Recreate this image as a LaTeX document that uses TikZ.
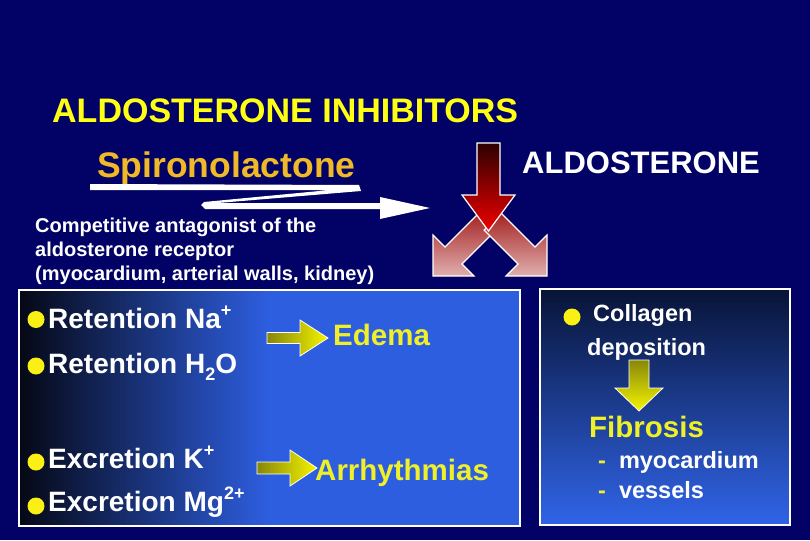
\documentclass[tikz,border=0pt]{standalone}
\usepackage{fontspec}
\setmainfont{Liberation Sans}
\definecolor{bgnavy}{RGB}{2,2,102}
\definecolor{titleyellow}{RGB}{255,255,20}
\definecolor{spiro}{RGB}{240,185,40}
\definecolor{txtyellow}{RGB}{240,240,40}
\definecolor{bulletyellow}{RGB}{250,240,20}
\definecolor{olivey}{RGB}{135,135,10}
\definecolor{brighty}{RGB}{245,245,0}
\definecolor{darkred}{RGB}{45,0,0}
\definecolor{brightred}{RGB}{240,0,0}
\definecolor{pinktop}{RGB}{165,35,35}
\definecolor{pinkbot}{RGB}{225,175,175}
\definecolor{rboxtop}{RGB}{8,20,55}
\definecolor{rboxbot}{RGB}{48,100,232}
\pgfdeclarehorizontalshading{lboxshade}{100bp}{rgb(0bp)=(0,0,0); rgb(25bp)=(0.02,0.03,0.08); rgb(50bp)=(0.18,0.37,0.88); rgb(100bp)=(0.18,0.37,0.88)}
\newcommand\mysup[1]{\raisebox{0.42em}{\fontsize{18}{18}\selectfont #1}}
\newcommand\mysub[1]{\raisebox{-0.28em}{\fontsize{18}{18}\selectfont #1}}
\begin{document}
\begin{tikzpicture}[x=1pt,y=-1pt,
  txt/.style={anchor=base west, inner sep=0pt, text=white},
  titletxt/.style={txt, text=titleyellow, font=\bfseries\fontsize{34}{40}\selectfont},
  spirotxt/.style={txt, text=spiro, font=\bfseries\fontsize{35.5}{40}\selectfont},
  aldotxt/.style={txt, font=\bfseries\fontsize{31}{36}\selectfont},
  smalltxt/.style={txt, font=\bfseries\fontsize{20}{24}\selectfont},
  bodytxt/.style={txt, font=\bfseries\fontsize{28}{32}\selectfont},
  yeltxt/.style={txt, text=txtyellow, font=\bfseries\fontsize{29.5}{34}\selectfont},
  rtxt/.style={txt, font=\bfseries\fontsize{23.5}{28}\selectfont},
  bullet/.style={circle, fill=bulletyellow, inner sep=0pt, minimum size=17pt},
  fatarrow/.style={draw=white, line width=1.2pt, line join=miter},
  panel/.style={draw=white, line width=2pt, inner sep=0pt}
]
\useasboundingbox (0,0) rectangle (810,540);
\fill[bgnavy] (0,0) rectangle (810,540);

% titles
\node[titletxt] (title) at (52,123) {ALDOSTERONE INHIBITORS};
\node[spirotxt] (spiro) at (97,178) {Spironolactone};
\node[aldotxt] (aldo) at (522,174) {ALDOSTERONE};

% white zigzag arrow
\fill[white] (90,184) -- (359,185) -- (361,191) -- (218,203) -- (380,203) -- (380,197)
  -- (430,208) -- (380,219) -- (380,209) -- (205,209) -- (201,205) -- (204,202)
  -- (330,190) -- (90,190) -- cycle;

\node[smalltxt] (comp1) at (35,232) {Competitive antagonist of the};
\node[smalltxt] (comp2) at (35,256) {aldosterone receptor};
\node[smalltxt] (comp3) at (35,280) {(myocardium, arterial walls, kidney)};

% pink diverging arrows
\shadedraw[fatarrow, top color=pinktop, bottom color=pinkbot]
  (433,276) -- (474,276) -- (462,264) -- (495.9,230.1) -- (478.9,213.1) -- (445,247) -- (433,235) -- cycle;
\shadedraw[fatarrow, top color=pinktop, bottom color=pinkbot]
  (547,276) -- (506,276) -- (518,264) -- (484.1,230.1) -- (501.1,213.1) -- (535,247) -- (547,235) -- cycle;
% red arrow
\shadedraw[fatarrow, top color=darkred, bottom color=brightred]
  (477,143) -- (500,143) -- (500,195) -- (515,195) -- (488.5,231) -- (462,195) -- (477,195) -- cycle;

% left panel
\node[panel, shade, shading=lboxshade, minimum width=501pt, minimum height=236pt] (lbox) at (269.5,408) {};
\node[bullet] (b1) at (36,319.5) {};
\node[bullet] (b2) at (36,366) {};
\node[bullet] (b3) at (36,462) {};
\node[bullet] (b4) at (36,506) {};
\node[bodytxt] (na) at (48,328) {Retention Na\mysup{+}};
\node[bodytxt] (h2o) at (48,373) {Retention H\mysub{2}O};
\node[bodytxt] (k) at (48,468) {Excretion K\mysup{+}};
\node[bodytxt] (mg) at (48,511) {Excretion Mg\mysup{2+}};
\shadedraw[fatarrow, line width=0.8pt, left color=olivey, right color=brighty]
  (267,332.5) -- (300,332.5) -- (300,320) -- (328,338) -- (300,356) -- (300,343.5) -- (267,343.5) -- cycle;
\shadedraw[fatarrow, line width=0.8pt, left color=olivey, right color=brighty]
  (257,462) -- (290,462) -- (290,450) -- (317,468) -- (290,486) -- (290,474) -- (257,474) -- cycle;
\node[yeltxt] (edema) at (333,345) {Edema};
\node[yeltxt] (arr) at (315,480) {Arrhythmias};

% right panel
\node[panel, top color=rboxtop, bottom color=rboxbot, minimum width=250pt, minimum height=236pt] (rbox) at (665,407) {};
\node[bullet] (b5) at (572,317) {};
\node[rtxt] (coll) at (593,321) {Collagen};
\node[rtxt] (depo) at (587,355) {deposition};
\shadedraw[fatarrow, line width=0.8pt, top color=olivey, bottom color=brighty]
  (629,360) -- (649,360) -- (649,388) -- (663,388) -- (639,411) -- (615,388) -- (629,388) -- cycle;
\node[yeltxt] (fib) at (589,437) {Fibrosis};
\node[rtxt] (myo) at (598,468) {{\color{txtyellow}-}\hspace{13pt}myocardium};
\node[rtxt] (ves) at (598,498) {{\color{txtyellow}-}\hspace{13pt}vessels};
\end{tikzpicture}
\end{document}
